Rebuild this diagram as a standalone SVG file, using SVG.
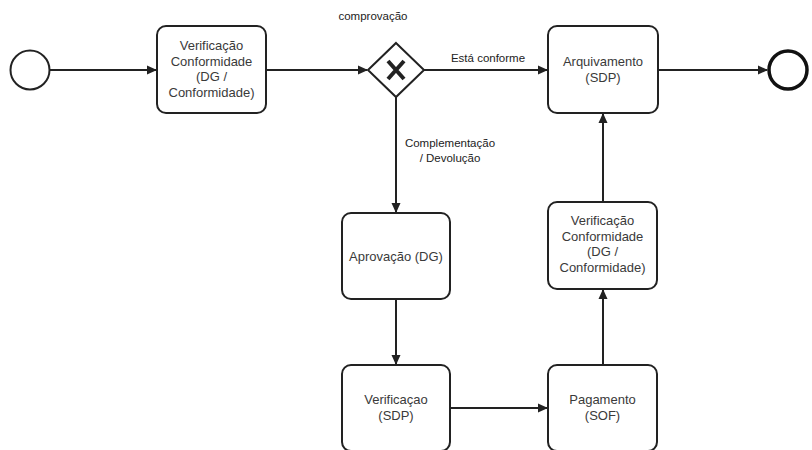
<svg xmlns="http://www.w3.org/2000/svg" width="812" height="450" viewBox="0 0 812 450">
<style>
.task{fill:#fff;stroke:#222;stroke-width:2}
.t{font-family:"Liberation Sans",Arial,sans-serif;font-size:13px;fill:#3a3a3a;text-anchor:middle}
.l{font-family:"Liberation Sans",Arial,sans-serif;font-size:11.5px;fill:#222;text-anchor:middle}
.c{fill:none;stroke:#222;stroke-width:2}
</style>
<defs>
<marker id="a" markerWidth="10" markerHeight="10" refX="9" refY="5" orient="auto" markerUnits="userSpaceOnUse">
<path d="M0,0.5 L10,5 L0,9.5 Z" fill="#222"/>
</marker>
</defs>
<rect width="812" height="450" fill="#fff"/>
<g id="connectors">
<line class="c" x1="50" y1="70" x2="156" y2="70" marker-end="url(#a)"/>
<line class="c" x1="266" y1="70" x2="367" y2="70" marker-end="url(#a)"/>
<line class="c" x1="424" y1="70" x2="547" y2="70" marker-end="url(#a)"/>
<line class="c" x1="658" y1="70" x2="767" y2="70" marker-end="url(#a)"/>
<line class="c" x1="396" y1="97" x2="396" y2="212" marker-end="url(#a)"/>
<line class="c" x1="396" y1="299" x2="396" y2="364" marker-end="url(#a)"/>
<line class="c" x1="450" y1="408" x2="547" y2="408" marker-end="url(#a)"/>
<line class="c" x1="603" y1="365" x2="603" y2="290" marker-end="url(#a)"/>
<line class="c" x1="603" y1="202" x2="603" y2="114" marker-end="url(#a)"/>
<text class="l" x="488" y="62">Está conforme</text>
<text class="l" x="450" y="147">Complementação</text>
<text class="l" x="450" y="162">/ Devolução</text>
</g>
<g id="start"><circle cx="30" cy="70" r="19.5" fill="#fff" stroke="#222" stroke-width="2"/></g>
<g id="task1">
<rect class="task" x="157" y="26" width="109" height="87" rx="9"/>
<text class="t" x="211.5" y="50">Verificação</text>
<text class="t" x="211.5" y="65.5">Conformidade</text>
<text class="t" x="211.5" y="81">(DG /</text>
<text class="t" x="211.5" y="96.5">Conformidade)</text>
</g>
<g id="gateway">
<path d="M396,43 L424,70 L396,97 L368,70 Z" fill="#fff" stroke="#222" stroke-width="2"/>
<path d="M388,61 L404,79 M404,61 L388,79" stroke="#222" stroke-width="4" fill="none"/>
<text class="l" x="373" y="20">comprovação</text>
</g>
<g id="arquivamento">
<rect class="task" x="548" y="26" width="110" height="87" rx="9"/>
<text class="t" x="603" y="66">Arquivamento</text>
<text class="t" x="603" y="82">(SDP)</text>
</g>
<g id="end"><circle cx="788" cy="70" r="19" fill="#fff" stroke="#111" stroke-width="3.5"/></g>
<g id="aprovacao">
<rect class="task" x="342" y="213" width="108" height="86" rx="9"/>
<text class="t" x="396" y="261">Aprovação (DG)</text>
</g>
<g id="verificacao-sdp">
<rect class="task" x="342" y="365" width="108" height="86" rx="9"/>
<text class="t" x="396" y="404">Verificaçao</text>
<text class="t" x="396" y="420">(SDP)</text>
</g>
<g id="pagamento">
<rect class="task" x="548" y="365" width="109" height="86" rx="9"/>
<text class="t" x="602.5" y="404">Pagamento</text>
<text class="t" x="602.5" y="420">(SOF)</text>
</g>
<g id="task2">
<rect class="task" x="548" y="202" width="109" height="87" rx="9"/>
<text class="t" x="602.5" y="225">Verificação</text>
<text class="t" x="602.5" y="240.5">Conformidade</text>
<text class="t" x="602.5" y="256">(DG /</text>
<text class="t" x="602.5" y="271.5">Conformidade)</text>
</g>
</svg>
